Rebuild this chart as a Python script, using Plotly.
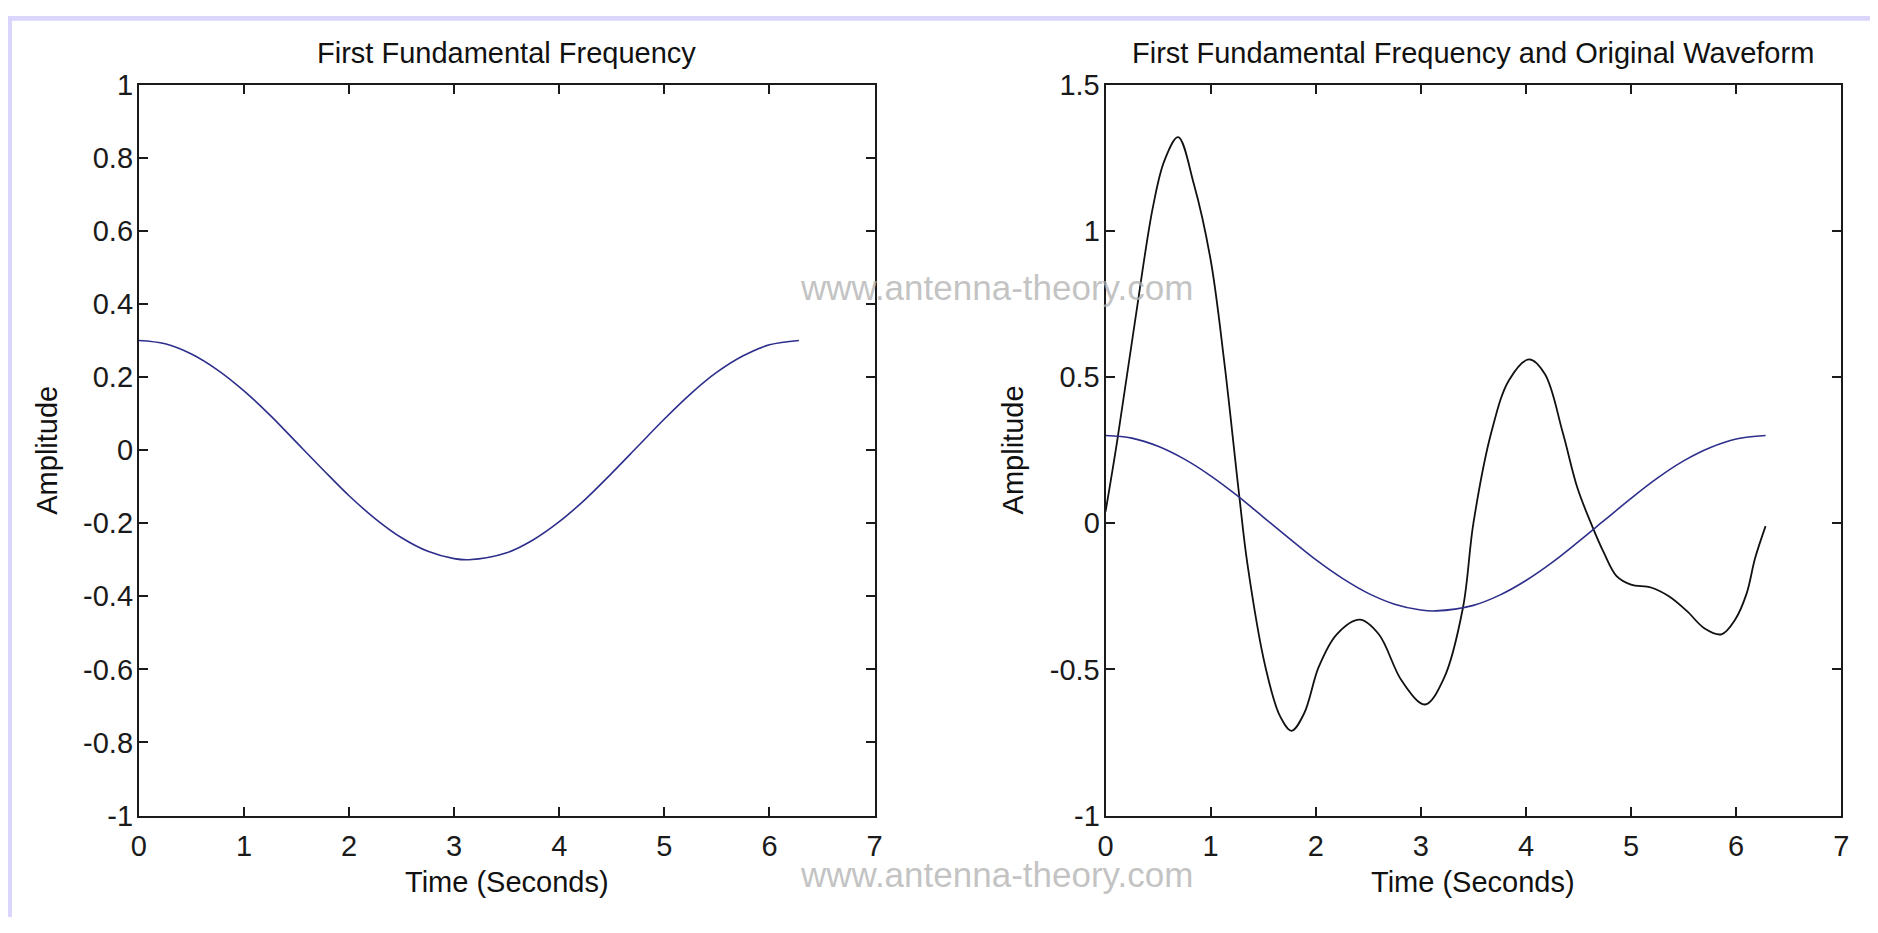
import plotly.graph_objects as go

# ---- data ----
# first fundamental frequency component (same curve in both panels)
fund_t = [0.0, 0.25, 0.5, 0.75, 1.0, 1.25, 1.5, 1.75, 2.0, 2.25, 2.5, 2.75, 3.0, 3.14,
          3.5, 3.75, 4.0, 4.25, 4.5, 4.75, 5.0, 5.25, 5.5, 5.75, 6.0, 6.28]
fund_amp = [0.300, 0.291, 0.263, 0.219, 0.162, 0.095, 0.021, -0.053, -0.125, -0.188,
            -0.240, -0.277, -0.297, -0.300, -0.281, -0.246, -0.196, -0.134, -0.063,
            0.011, 0.085, 0.154, 0.213, 0.258, 0.288, 0.300]

# original waveform
wave_t = [0.0, 0.11, 0.28, 0.45, 0.56, 0.69, 0.84, 1.0, 1.13, 1.27, 1.35, 1.52, 1.66,
          1.77, 1.89, 2.03, 2.2, 2.42, 2.6, 2.82, 3.04, 3.22, 3.4, 3.5, 3.67, 3.84,
          4.03, 4.18, 4.35, 4.49, 4.63, 4.74, 4.86, 5.0, 5.19, 5.36, 5.53, 5.7, 5.86,
          5.99, 6.1, 6.18, 6.28]
wave_amp = [0.04, 0.28, 0.69, 1.08, 1.24, 1.32, 1.16, 0.90, 0.55, 0.10, -0.14, -0.49,
            -0.66, -0.71, -0.65, -0.49, -0.38, -0.33, -0.38, -0.54, -0.62, -0.53,
            -0.29, 0.0, 0.31, 0.49, 0.56, 0.51, 0.31, 0.12, -0.01, -0.10, -0.18, -0.21,
            -0.22, -0.25, -0.30, -0.36, -0.38, -0.33, -0.24, -0.12, -0.01]

x_ticks = [0, 1, 2, 3, 4, 5, 6, 7]
left_y_ticks = [-1, -0.8, -0.6, -0.4, -0.2, 0, 0.2, 0.4, 0.6, 0.8, 1]
left_y_labels = ["-1", "-0.8", "-0.6", "-0.4", "-0.2", "0", "0.2", "0.4", "0.6", "0.8", "1"]
right_y_ticks = [-1, -0.5, 0, 0.5, 1, 1.5]
right_y_labels = ["-1", "-0.5", "0", "0.5", "1", "1.5"]

titles = ["First Fundamental Frequency", "First Fundamental Frequency and Original Waveform"]

# ---- page geometry (pixels) ----
W, H = 1878, 933
FONT = "Liberation Sans, Arial, sans-serif"
BLUE = "#2e2e8c"


def px(x):
    return x / W


def py(y):
    return 1 - y / H


plot_top, plot_bot = 71, 828
left_x0, left_x1 = 132, 874
right_x0, right_x1 = 1107, 1849

fig = go.Figure()

fig.add_trace(go.Scatter(x=fund_t, y=fund_amp, mode="lines", line=dict(color=BLUE, width=1.6, shape="spline"),
                         xaxis="x", yaxis="y", showlegend=False))
fig.add_trace(go.Scatter(x=wave_t, y=wave_amp, mode="lines", line=dict(color="#111111", width=1.8, shape="spline", smoothing=1.0),
                         xaxis="x2", yaxis="y2", showlegend=False))
fig.add_trace(go.Scatter(x=fund_t, y=fund_amp, mode="lines", line=dict(color=BLUE, width=1.6, shape="spline"),
                         xaxis="x2", yaxis="y2", showlegend=False))

axis_common = dict(showline=True, linecolor="#1a1a1a", linewidth=2, mirror="ticks",
                   ticks="inside", ticklen=9, tickwidth=1.5, tickcolor="#1a1a1a",
                   showgrid=False, zeroline=False,
                   tickfont=dict(family=FONT, size=29, color="#1a1a1a"))

fig.update_layout(
    width=W, height=H,
    margin=dict(l=0, r=0, t=0, b=0),
    paper_bgcolor="white", plot_bgcolor="white",
    xaxis=dict(domain=[px(left_x0), px(left_x1)], range=[0, 7], tickvals=x_ticks,
               anchor="y", ticklabelstandoff=4, **axis_common),
    yaxis=dict(domain=[py(plot_bot), py(plot_top)], range=[-1, 1], tickvals=left_y_ticks,
               ticktext=left_y_labels, anchor="x", ticklabelstandoff=-2, **axis_common),
    xaxis2=dict(domain=[px(right_x0), px(right_x1)], range=[0, 7], tickvals=x_ticks,
                anchor="y2", ticklabelstandoff=4, **axis_common),
    yaxis2=dict(domain=[py(plot_bot), py(plot_top)], range=[-1, 1.5], tickvals=right_y_ticks,
                ticktext=right_y_labels, anchor="x2", ticklabelstandoff=-2, **axis_common),
)

# lavender frame strips along the top and left edges
fig.add_shape(type="rect", xref="paper", yref="paper", x0=0, x1=1, y0=py(5), y1=1,
              fillcolor="#d9d5fc", line_width=0, layer="below")
fig.add_shape(type="rect", xref="paper", yref="paper", x0=0, x1=px(4), y0=0, y1=1,
              fillcolor="#d9d5fc", line_width=0, layer="below")

annotations = []
# panel titles and x-axis titles
for title, (x0, x1) in zip(titles, [(left_x0, left_x1), (right_x0, right_x1)]):
    annotations.append(dict(text=title, x=px((x0 + x1) / 2), y=py(38), xref="paper", yref="paper",
                            xanchor="center", yanchor="middle", showarrow=False,
                            font=dict(family=FONT, size=29, color="#111111")))
    annotations.append(dict(text="Time (Seconds)", x=px((x0 + x1) / 2), y=py(897), xref="paper",
                            yref="paper", xanchor="center", yanchor="middle", showarrow=False,
                            font=dict(family=FONT, size=29, color="#111111")))
# y-axis titles
for xc in (39, 1014):
    annotations.append(dict(text="Amplitude", x=px(xc), y=py((plot_top + plot_bot) / 2), xref="paper",
                            yref="paper", xanchor="center", yanchor="middle", showarrow=False,
                            textangle=-90, font=dict(family=FONT, size=29, color="#111111")))
# site watermarks
for yc in (281, 889):
    annotations.append(dict(text="www.antenna-theory.com", x=px(997), y=py(yc), xref="paper",
                            yref="paper", xanchor="center", yanchor="middle", showarrow=False,
                            font=dict(family=FONT, size=35, color="rgba(175,175,175,0.75)")))

fig.update_layout(annotations=annotations)

fig.write_html("out.html")
